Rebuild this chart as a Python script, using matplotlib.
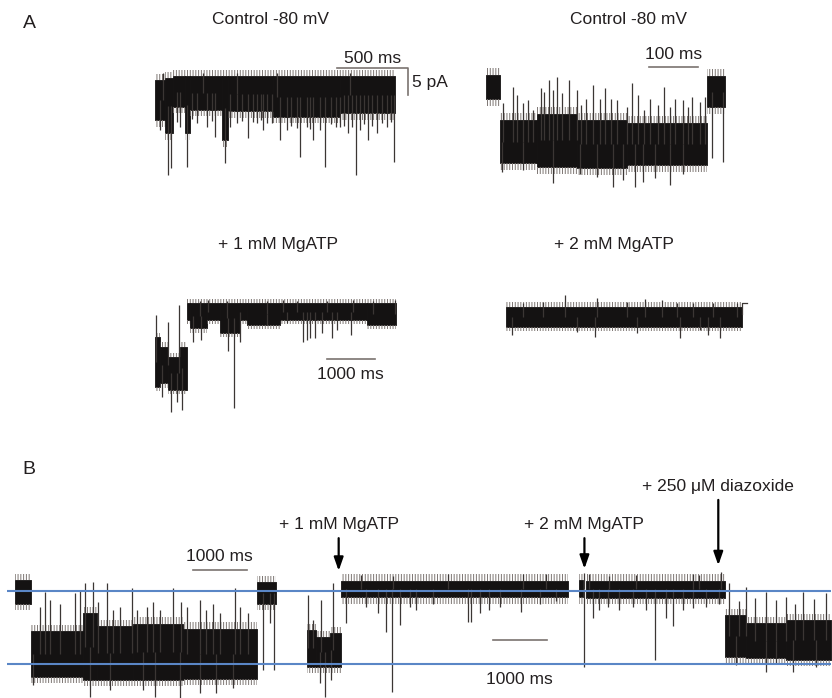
import numpy as np
import matplotlib.pyplot as plt

plt.rcParams['font.family'] = ['Liberation Sans', 'DejaVu Sans']
plt.rcParams['hatch.linewidth'] = 0.7

W, H = 832, 698
TRACE = '#141212'
SPIKE = '#3b3634'
FRINGE = '#7d7673'
BAR = '#7a7370'
TEXT = '#231f20'
BLUE = '#5a86c6'
FS = 12.5

# ---- A, control (500 ms bar) : time ms, current pA
a1_seg_t0 = [0, 70, 129, 211, 246, 469, 516, 833, 1302]
a1_seg_t1 = [70, 129, 211, 246, 469, 516, 833, 1302, 1690]
a1_seg_hi = [-0.4, 0.0, 0.3, 0.3, 0.3, 0.3, 0.3, 0.3, 0.3]
a1_seg_lo = [-7.8, -10.2, -5.3, -10.2, -5.9, -11.5, -6.2, -7.2, -6.5]
a1_spk_t = [94, 110, 223, 493, 655, 880, 1021, 1197, 1415, 1683,
            35, 153, 176, 293, 364, 422, 528, 575, 716, 763, 821, 927,
            1068, 1115, 1162, 1302, 1361, 1443, 1502, 1561, 1631,
            59, 340, 575, 857, 1373,
            260, 400, 610, 690, 745, 790, 960, 1000, 1090, 1240, 1275, 1330, 1390, 1470, 1530, 1600, 1660]
a1_spk_v = [-18.0, -16.7, -16.4, -15.8, -11.1, -11.5, -14.6, -16.5, -18.0, -15.5,
            -9.6, -8.1, -9.0, -8.4, -9.0, -10.9, -9.0, -8.4, -8.4, -9.6, -8.4, -9.6,
            -9.0, -11.5, -9.6, -9.0, -10.2, -9.6, -11.5, -10.2, -9.0,
            1.0, 1.0, 1.0, 1.0, 1.0,
            -7.6, -7.9, -8.0, -8.2, -7.8, -8.4, -8.8, -9.2, -9.4, -8.6, -9.0, -8.8, -9.1, -8.5, -8.9, -8.3, -8.1]

# ---- A, control (100 ms bar)
a2_seg_t0 = [0, 28.6, 103.4, 185, 287, 451.6]
a2_seg_t1 = [28.6, 103.4, 185, 287, 451.6, 487.6]
a2_seg_hi = [0.56, -7.8, -6.7, -7.8, -8.4, 0.3]
a2_seg_lo = [-3.8, -15.8, -16.4, -16.7, -16.1, -5.3]
a2_spk_t = [35.4, 54.4, 64, 76.2, 86.4, 96.6, 111.6, 118.4, 129.2, 137.4, 145.6,
            154.4, 170, 185, 193.2, 204, 219, 232.6, 242.8, 254.4, 266.6, 287,
            297.2, 310.8, 322.4, 334.6, 351.6, 363.2, 375.4, 385.6, 402.6, 412.8,
            419.6, 436.6, 446.8,
            137.4, 191.8, 225.8, 259.8, 280.2, 304, 321, 344.8, 375.4, 402.6,
            32, 76.2, 460.4, 484.2]
a2_spk_v = [-4.7, -1.6, -3.15, -4.7, -4.1, -5.9, -1.9, -2.5, -0.4, -2.2, 0.1,
            -2.8, -0.4, -2.2, -5.0, -3.8, -1.3, -3.8, -1.9, -3.8, -4.1, -5.3,
            -1.0, -3.15, -5.9, -3.8, -5.0, -1.6, -5.3, -3.8, -4.1, -5.3,
            -3.5, -4.4, -3.5,
            -19.5, -17.7, -18.3, -20.1, -18.9, -20.1, -19.2, -18.6, -19.8, -17.7,
            -17.4, -17.0, -14.9, -15.5]

# ---- A, + 1 mM MgATP
a3_seg_t0 = [0, 103.5, 276, 517.5, 655.5, 724.5, 1069.5, 1345.5, 1759.5, 1897.5, 2587.5, 4381.5]
a3_seg_t1 = [103.5, 276, 517.5, 655.5, 724.5, 1069.5, 1345.5, 1759.5, 1897.5, 2587.5, 4381.5, 4989]
a3_seg_hi = [-5.9, -7.7, -9.6, -7.7, 0.3, 0.3, 0.3, 0.3, 0.3, 0.3, 0.3, 0.3]
a3_seg_lo = [-15.1, -14.5, -15.7, -15.7, -2.8, -4.3, -2.8, -5.2, -2.8, -3.7, -2.8, -3.7]
a3_spk_t = [20.7, 276, 504, 1104, 2656, 4105, 4968, 931, 1483, 2311, 2933, 3553, 4520,
            324, 552, 138, 448, 780, 945, 1518, 1642, 1760, 3070, 3140, 3208,
            3312, 3450, 3657, 3760, 4050, 2311, 2725]
a3_spk_v = [-1.85, -3.1, 0.0, 0.9, 0.9, 0.9, 0.9, 0.8, 0.8, 0.8, 0.8, 0.8, 0.8,
            -19.75, -19.4, -17.0, -17.9, -6.8, -6.5, -8.6, -19.1, -6.8, -6.8, -6.5, -6.2,
            -6.2, -5.2, -6.2, -4.6, -5.6, -3.7, -3.4]

# ---- A, + 2 mM MgATP
a4_seg_t0 = [0]
a4_seg_t1 = [4885]
a4_seg_hi = [0.43]
a4_seg_lo = [-3.27]
a4_spk_t = [1221, 1877, 2877, 3222, 773, 359, 2498, 3533, 3878, 4292, 4775,
            117, 1842, 2705, 3602, 1463, 4188, 4430, 4016]
a4_spk_v = [2.59, 1.98, 1.79, 1.67, 1.36, 1.17, 1.36, 1.05, 1.05, 1.17, 1.05,
            -4.81, -5.12, -4.5, -5.43, -4.2, -4.81, -5.43, -3.9]
a4_end_t = [4885, 4885, 4980]
a4_end_v = [-1.0, 1.1, 1.1]

# ---- B, continuous record
b_seg_t0 = [0, 290, 1264, 1511, 2189, 3114, 4483, 5408, 5581, 5828, 6044, 10453, 10576, 13154, 13536, 14276]
b_seg_t1 = [290, 1264, 1511, 2189, 3114, 4483, 4841, 5581, 5828, 6044, 10237, 10527, 13154, 13536, 14276, 15115]
b_seg_hi = [1.6, -5.8, -3.2, -5.1, -4.7, -5.4, 1.3, -5.6, -6.6, -6.1, 1.5, 1.6, 1.5, -3.5, -4.6, -4.2]
b_seg_lo = [-1.8, -12.3, -12.8, -12.8, -12.8, -12.6, -1.8, -10.9, -10.9, -10.9, -0.9, -0.9, -1.0, -9.5, -9.7, -9.9]
b_spk_t = [463, 555, 648, 833, 1110, 1203, 1295, 1449, 1542, 1696, 1819, 1943, 2158,
           2251, 2436, 2559, 2683, 2929, 3083, 3176, 3423, 3546, 3669, 3793, 4070, 4163, 4317,
           339, 1388, 1758, 2374, 2590, 3053, 3423, 3731, 4039,
           4594, 4792, 4718,
           5427, 5520, 5674, 5890, 5735, 5643, 5859,
           6136, 6506, 6722, 6876, 6987, 7123, 7308, 7431, 7739, 8387, 8448, 8603,
           8775, 8973, 9373, 9713, 10021,
           8017, 9404, 9836, 6400, 7000,
           10545, 10545,
           10699, 10823, 10977, 11193, 11439, 11686, 11859, 12056, 12180, 12364, 12549, 12796, 13043,
           10638, 12549, 12673, 13074, 11000, 11500,
           13228, 13536, 13906, 14276, 14585, 15016, 13400, 13700, 14100, 14450, 14800,
           13906, 14400, 14831, 13350, 14100]
b_spk_v = [-2.25, -0.1, -1.3, -1.8, -0.35, 0.15, 1.1, 1.35, -1.55, 1.1, -2.7, -2.25, 0.4,
           -2.7, -2.25, -1.55, -2.7, 0.4, -1.55, -2.25, -1.3, -2.7, -1.8, -3.2, 0.4, -2.25, -3.2,
           -13.5, -15.2, -14.2, -14.2, -15.2, -15.4, -14.7, -14.7, -14.0,
           -11.4, -11.4, -4.65,
           -0.6, -4.2, -1.3, 1.1, -15.2, -13.3, -12.8,
           -4.65, -2.25, -3.2, -5.85, -14.5, -4.9, -2.25, -2.7, -1.8, -4.4, -4.4, -3.2,
           -2.7, -2.25, -3.0, -1.8, -1.5,
           2.5, 2.5, 2.5, 2.3, 2.1,
           2.54, -10.9,
           -3.9, -2.7, -2.25, -2.7, -2.25, -2.7, -9.9, -3.9, -5.1, -2.7, -2.5, -2.25, -1.8,
           2.5, 2.5, 2.3, 2.8, 2.2, 2.3,
           1.1, 0.6, -0.1, -0.8, -0.1, -0.35, -1.5, -1.0, -1.3, -1.8, -1.2,
           -11.6, -11.6, -10.9, -10.6, -10.5]
b_base_lines = [0.0, -10.5]
b_event_t = [5994, 10545, 13024]
b_event_labels = ['+ 1 mM MgATP', '+ 2 mM MgATP', '+ 250 \u03bcM diazoxide']
b_event_tail = [7.6, 7.6, 13.1]
b_event_tip = [2.9, 3.2, 3.7]
b_label_v = [9.5, 9.5, 15.0]

fig = plt.figure(figsize=(W / 100, H / 100), dpi=100)


def panel(x0, y0, x1, y1, x_org, ms_px, y_zero, px_pa):
    # axes placed by pixel box, data units are ms and pA
    ax = fig.add_axes([x0 / W, 1 - y1 / H, (x1 - x0) / W, (y1 - y0) / H])
    ax.set_xlim((x0 - x_org) * ms_px, (x1 - x_org) * ms_px)
    ax.set_ylim(-(y1 - y_zero) / px_pa, -(y0 - y_zero) / px_pa)
    ax.axis('off')
    return ax


def base_level(t, t0, t1, hi, lo):
    for a, b, h, l in zip(t0, t1, hi, lo):
        if a <= t <= b:
            return (h + l) / 2
    mids = [abs((a + b) / 2 - t) for a, b in zip(t0, t1)]
    i = int(np.argmin(mids))
    return (hi[i] + lo[i]) / 2


def draw_trace(ax, t0, t1, hi, lo, st, sv, fringe):
    for a, b, h, l in zip(t0, t1, hi, lo):
        ax.fill_between([a, b], [l, l], [h, h], color=TRACE, lw=0.6, edgecolor=TRACE)
        # soft noisy edge above and below each level
        ax.fill_between([a, b], [h, h], [h + fringe, h + fringe], facecolor='none',
                        edgecolor=FRINGE, hatch='||||||', lw=0)
        ax.fill_between([a, b], [l - fringe, l - fringe], [l, l], facecolor='none',
                        edgecolor=FRINGE, hatch='||||||', lw=0)
    bases = [base_level(t, t0, t1, hi, lo) for t in st]
    ax.vlines(st, bases, sv, color=SPIKE, lw=0.9)


def ftext(x, y, s, size=FS, **kw):
    fig.text(x / W, 1 - y / H, s, fontsize=size, color=TEXT, ha='center', va='center', **kw)


# A1
ax1 = panel(150, 40, 470, 200, 155, 500 / 71, 78, 5.4)
draw_trace(ax1, a1_seg_t0, a1_seg_t1, a1_seg_hi, a1_seg_lo, a1_spk_t, a1_spk_v, 1.2)
ax1.plot([1281, 1781, 1781], [1.85, 1.85, -3.15], color=BAR, lw=1.2)
ax1.text(1531, 3.7, '500 ms', fontsize=FS, color=TEXT, ha='center', va='center')
ax1.text(1809, -0.9, '5 pA', fontsize=FS, color=TEXT, ha='left', va='center')

# A2
ax2 = panel(470, 40, 800, 210, 486, 100 / 49, 78, 5.4)
draw_trace(ax2, a2_seg_t0, a2_seg_t1, a2_seg_hi, a2_seg_lo, a2_spk_t, a2_spk_v, 1.3)
ax2.plot([332.5, 432.5], [1.98, 1.98], color=BAR, lw=1.2)
ax2.text(382.5, 4.26, '100 ms', fontsize=FS, color=TEXT, ha='center', va='center')

# A3
ax3 = panel(140, 260, 480, 430, 155, 1000 / 48.3, 305, 5.4)
draw_trace(ax3, a3_seg_t0, a3_seg_t1, a3_seg_hi, a3_seg_lo, a3_spk_t, a3_spk_v, 0.8)
ax3.plot([3554, 4554], [-10.06, -10.06], color=BAR, lw=1.2)
ax3.text(4040, -12.8, '1000 ms', fontsize=FS, color=TEXT, ha='center', va='center')

# A4
ax4 = panel(490, 260, 800, 360, 506, 1000 / 48.3, 309, 5.4)
draw_trace(ax4, a4_seg_t0, a4_seg_t1, a4_seg_hi, a4_seg_lo, a4_spk_t, a4_spk_v, 0.8)
ax4.plot(a4_end_t, a4_end_v, color=SPIKE, lw=0.9)

# B
axb = panel(0, 470, 832, 698, 15, 1000 / 54, 591, 73 / 10.5)
draw_trace(axb, b_seg_t0, b_seg_t1, b_seg_hi, b_seg_lo, b_spk_t, b_spk_v, 0.9)
axb.hlines(b_base_lines, -148, 15115, color=BLUE, lw=1.5, zorder=3)
axb.plot([3293, 4293], [3.02, 3.02], color=BAR, lw=1.2)
axb.text(3793, 5.0, '1000 ms', fontsize=FS, color=TEXT, ha='center', va='center')
axb.plot([8843, 9843], [-7.05, -7.05], color=BAR, lw=1.2)
axb.text(9343, -12.8, '1000 ms', fontsize=FS, color=TEXT, ha='center', va='center')
for t, lab, tail, tip, lv in zip(b_event_t, b_event_labels, b_event_tail, b_event_tip, b_label_v):
    axb.annotate('', xy=(t, tip), xytext=(t, tail),
                 arrowprops=dict(arrowstyle='-|>,head_length=0.8,head_width=0.28',
                                 color='black', lw=1.6, shrinkA=0, shrinkB=0))
    axb.text(t, lv, lab, fontsize=FS, color=TEXT, ha='center', va='center')

ftext(29, 24, 'A', size=14)
ftext(29, 470, 'B', size=14)
ftext(271, 20, 'Control -80 mV')
ftext(629, 20, 'Control -80 mV')
ftext(278, 244, '+ 1 mM MgATP')
ftext(614, 244, '+ 2 mM MgATP')

fig.savefig('out.png', dpi=100, facecolor='white')
